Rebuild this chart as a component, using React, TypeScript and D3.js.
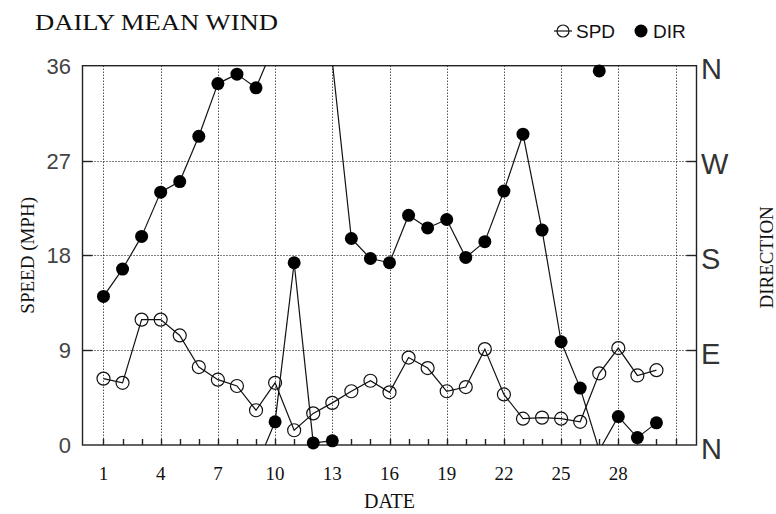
import { useEffect, useRef } from "react";
import * as d3 from "d3";

const days = [
  1, 2, 3, 4, 5, 6, 7, 8, 9, 10, 11, 12, 13, 14, 15, 16, 17, 18, 19, 20, 21,
  22, 23, 24, 25, 26, 27, 28, 29, 30,
];
const speedMph = [
  6.3, 5.9, 11.9, 11.9, 10.4, 7.4, 6.2, 5.6, 3.3, 5.9, 1.4, 3.0, 4.0, 5.1, 6.1,
  5.0, 8.3, 7.3, 5.1, 5.5, 9.1, 4.8, 2.5, 2.6, 2.5, 2.2, 6.8, 9.2, 6.6, 7.1,
];
const directionDeg = [
  141, 167, 198, 240, 250, 293, 343, 352, 339, 22, 173, 2, 4, 196, 177, 173,
  218, 206, 214, 178, 193, 241, 295, 204, 98, 54, 355, 27, 7, 21,
];
const speedTicks = [0, 9, 18, 27, 36];
const directionTicks = [0, 90, 180, 270, 360];
const directionLabels = ["N", "E", "S", "W", "N"];
const dateLabels = [1, 4, 7, 10, 13, 16, 19, 22, 25, 28];
const dateGrid = [1, 4, 7, 10, 13, 16, 19, 22, 25, 28, 31];
const dateTicks = d3.range(1, 32);

const width = 776;
const height = 514;
const plot = { left: 82.5, right: 696.5, top: 65.7, bottom: 445 };

const serif = "'Liberation Serif', 'Times New Roman', serif";
const sans = "'Liberation Sans', Arial, sans-serif";
const narrow = "'Liberation Sans Narrow', 'Liberation Sans', Arial, sans-serif";

export default function App() {
  const ref = useRef<SVGSVGElement>(null);

  useEffect(() => {
    const svg = d3.select(ref.current!);
    svg.selectAll("*").remove();

    const x = d3.scaleLinear().domain([-0.1, 32.1]).range([plot.left, plot.right]);
    const ySpd = d3.scaleLinear().domain([0, 36]).range([plot.bottom, plot.top]);
    const yDir = d3.scaleLinear().domain([0, 360]).range([plot.bottom, plot.top]);

    svg
      .append("defs")
      .append("clipPath")
      .attr("id", "plot-clip")
      .append("rect")
      .attr("x", plot.left)
      .attr("y", plot.top)
      .attr("width", plot.right - plot.left)
      .attr("height", plot.bottom - plot.top);

    // grid
    const grid = svg.append("g").attr("stroke", "#000").attr("stroke-width", 1).attr("stroke-dasharray", "1,2");
    grid
      .selectAll("line.v")
      .data(dateGrid)
      .join("line")
      .attr("class", "v")
      .attr("x1", (d) => Math.round(x(d)) + 0.5)
      .attr("x2", (d) => Math.round(x(d)) + 0.5)
      .attr("y1", plot.top)
      .attr("y2", plot.bottom);
    grid
      .selectAll("line.h")
      .data(speedTicks.slice(1, -1))
      .join("line")
      .attr("class", "h")
      .attr("x1", plot.left)
      .attr("x2", plot.right)
      .attr("y1", (d) => Math.round(ySpd(d)) + 0.5)
      .attr("y2", (d) => Math.round(ySpd(d)) + 0.5);

    // frame + ticks
    svg
      .append("rect")
      .attr("x", plot.left)
      .attr("y", plot.top)
      .attr("width", plot.right - plot.left)
      .attr("height", plot.bottom - plot.top)
      .attr("fill", "none")
      .attr("stroke", "#222")
      .attr("stroke-width", 1.4);

    const ticks = svg.append("g").attr("stroke", "#222").attr("stroke-width", 1.4);
    ticks
      .selectAll("line.b")
      .data(dateTicks)
      .join("line")
      .attr("class", "b")
      .attr("x1", (d) => Math.round(x(d)) + 0.5)
      .attr("x2", (d) => Math.round(x(d)) + 0.5)
      .attr("y1", plot.bottom)
      .attr("y2", plot.bottom - 6);
    ticks
      .selectAll("line.l")
      .data(speedTicks.slice(1, -1))
      .join("line")
      .attr("class", "l")
      .attr("x1", plot.left)
      .attr("x2", plot.left + 10)
      .attr("y1", (d) => Math.round(ySpd(d)) + 0.5)
      .attr("y2", (d) => Math.round(ySpd(d)) + 0.5);
    ticks
      .selectAll("line.r")
      .data(directionTicks.slice(1, -1))
      .join("line")
      .attr("class", "r")
      .attr("x1", plot.right)
      .attr("x2", plot.right - 10)
      .attr("y1", (d) => Math.round(yDir(d)) + 0.5)
      .attr("y2", (d) => Math.round(yDir(d)) + 0.5);

    // axis labels
    svg
      .append("g")
      .selectAll("text")
      .data(speedTicks)
      .join("text")
      .attr("x", 71)
      .attr("y", (d) => ySpd(d) + 8)
      .attr("text-anchor", "end")
      .attr("font-family", sans)
      .attr("font-size", 22)
      .attr("fill", "#444")
      .text((d) => d);

    svg
      .append("g")
      .selectAll("text")
      .data(directionTicks)
      .join("text")
      .attr("x", 701)
      .attr("y", (d) => yDir(d) + 13.5)
      .attr("font-family", narrow)
      .attr("font-size", 29)
      .attr("fill", "#333")
      .text((_, i) => directionLabels[i]);

    svg
      .append("g")
      .selectAll("text")
      .data(dateLabels)
      .join("text")
      .attr("x", (d) => x(d))
      .attr("y", 480)
      .attr("text-anchor", "middle")
      .attr("font-family", serif)
      .attr("font-size", 19)
      .attr("fill", "#111")
      .text((d) => d);

    svg
      .append("text")
      .attr("x", (plot.left + plot.right) / 2)
      .attr("y", 508)
      .attr("text-anchor", "middle")
      .attr("font-family", serif)
      .attr("font-size", 20)
      .attr("fill", "#111")
      .text("DATE");

    svg
      .append("text")
      .attr("transform", `translate(34,${(plot.top + plot.bottom) / 2}) rotate(-90)`)
      .attr("text-anchor", "middle")
      .attr("font-family", serif)
      .attr("font-size", 19)
      .attr("fill", "#111")
      .text("SPEED (MPH)");

    svg
      .append("text")
      .attr("transform", `translate(773,${(plot.top + plot.bottom) / 2 + 2}) rotate(-90)`)
      .attr("text-anchor", "middle")
      .attr("font-family", serif)
      .attr("font-size", 19)
      .attr("fill", "#111")
      .text("DIRECTION");

    svg
      .append("text")
      .attr("x", 35)
      .attr("y", 30)
      .attr("font-family", serif)
      .attr("font-size", 23)
      .attr("textLength", 243)
      .attr("lengthAdjust", "spacingAndGlyphs")
      .attr("fill", "#111")
      .text("DAILY MEAN WIND");

    // legend
    const legend = svg.append("g").attr("transform", "translate(0,31)");
    legend
      .append("circle")
      .attr("cx", 563)
      .attr("cy", 0)
      .attr("r", 6)
      .attr("fill", "none")
      .attr("stroke", "#111")
      .attr("stroke-width", 1.2);
    legend
      .append("line")
      .attr("x1", 554)
      .attr("x2", 572)
      .attr("y1", 0)
      .attr("y2", 0)
      .attr("stroke", "#111")
      .attr("stroke-width", 1.2);
    legend
      .append("text")
      .attr("x", 576)
      .attr("y", 7)
      .attr("font-family", sans)
      .attr("font-size", 19)
      .attr("fill", "#111")
      .text("SPD");
    legend.append("circle").attr("cx", 641).attr("cy", 0).attr("r", 6.5).attr("fill", "#000");
    legend
      .append("text")
      .attr("x", 653)
      .attr("y", 7)
      .attr("font-family", sans)
      .attr("font-size", 19)
      .attr("fill", "#111")
      .text("DIR");

    const data = days.map((d, i) => ({ day: d, spd: speedMph[i], dir: directionDeg[i] }));

    // speed series
    const spdLine = d3
      .line<{ day: number; spd: number }>()
      .x((d) => x(d.day))
      .y((d) => ySpd(d.spd));
    svg
      .append("path")
      .datum(data)
      .attr("d", spdLine)
      .attr("fill", "none")
      .attr("stroke", "#111")
      .attr("stroke-width", 1.2);
    svg
      .append("g")
      .selectAll("circle")
      .data(data)
      .join("circle")
      .attr("cx", (d) => x(d.day))
      .attr("cy", (d) => ySpd(d.spd))
      .attr("r", 6.5)
      .attr("fill", "none")
      .attr("stroke", "#111")
      .attr("stroke-width", 1.2);

    // direction series, wrapped through N when the shorter way crosses it
    const segments: [number, number][][] = [];
    for (let i = 0; i < data.length - 1; i++) {
      const a = data[i];
      const b = data[i + 1];
      if (Math.abs(b.dir - a.dir) <= 180) {
        segments.push([
          [a.day, a.dir],
          [b.day, b.dir],
        ]);
      } else {
        const s = b.dir < a.dir ? 360 : -360;
        segments.push([
          [a.day, a.dir],
          [b.day, b.dir + s],
        ]);
        segments.push([
          [a.day, a.dir - s],
          [b.day, b.dir],
        ]);
      }
    }
    const dirLine = d3
      .line<[number, number]>()
      .x((d) => x(d[0]))
      .y((d) => yDir(d[1]));
    svg
      .append("g")
      .attr("clip-path", "url(#plot-clip)")
      .selectAll("path")
      .data(segments)
      .join("path")
      .attr("d", dirLine)
      .attr("fill", "none")
      .attr("stroke", "#111")
      .attr("stroke-width", 1.2);
    svg
      .append("g")
      .selectAll("circle")
      .data(data)
      .join("circle")
      .attr("cx", (d) => x(d.day))
      .attr("cy", (d) => yDir(d.dir))
      .attr("r", 6.5)
      .attr("fill", "#000");
  }, []);

  return (
    <svg
      ref={ref}
      width={width}
      height={height}
      viewBox={`0 0 ${width} ${height}`}
      style={{ position: "absolute", left: 0, top: 0, background: "#fff" }}
    />
  );
}
